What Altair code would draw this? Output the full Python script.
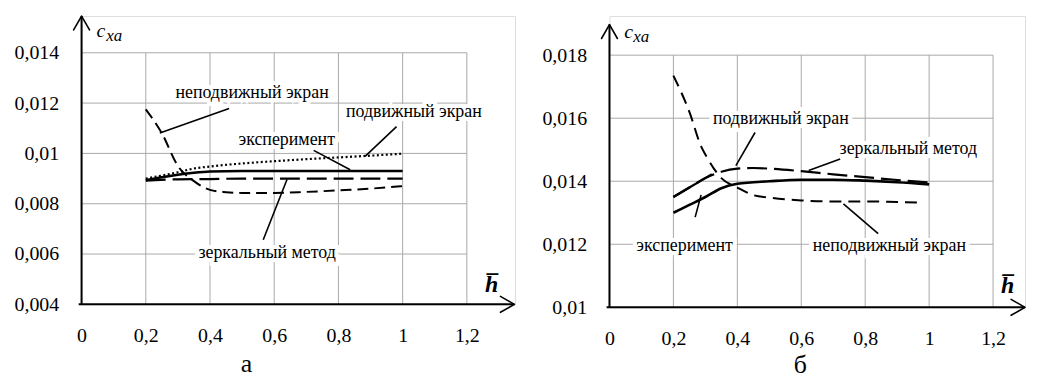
import altair as alt
import pandas as pd

FONT = "'Liberation Serif', 'Liberation Sans', Arial, sans-serif"
TICK_FS = 20
NOTE_FS = 18

# ---------------- panel а ----------------
a_xticks = [0, 0.2, 0.4, 0.6, 0.8, 1.0, 1.2]
a_yticks = [0.004, 0.006, 0.008, 0.010, 0.012, 0.014]
a_xdom = [0, 1.35]
a_ydom = [0.004, 0.01546]
a_xarrow = 1.348
a_yarrow = 0.01546

a_fixed_x = [0.2, 0.25, 0.3, 0.35, 0.4, 0.45, 0.5, 0.6, 0.7, 0.8, 0.9, 1.0]
a_fixed_y = [0.01175, 0.0108, 0.0095, 0.0089, 0.00855, 0.00846, 0.00843, 0.00843, 0.00847, 0.00853, 0.0086, 0.0087]
a_mirror_x = [0.2, 0.3, 0.4, 0.5, 0.6, 0.7, 0.8, 0.9, 1.0]
a_mirror_y = [0.00892, 0.00897, 0.00898, 0.0090, 0.0090, 0.0090, 0.0090, 0.0090, 0.0090]
a_exp_x = [0.2, 0.25, 0.3, 0.35, 0.4, 0.5, 0.6, 0.7, 0.8, 0.9, 1.0]
a_exp_y = [0.00893, 0.00905, 0.00915, 0.00923, 0.00928, 0.0093, 0.0093, 0.0093, 0.0093, 0.0093, 0.0093]
a_moving_x = [0.2, 0.3, 0.35, 0.4, 0.5, 0.6, 0.7, 0.8, 0.9, 1.0]
a_moving_y = [0.0090, 0.00925, 0.0094, 0.00948, 0.0096, 0.00969, 0.00977, 0.00984, 0.00991, 0.00999]

a_labels = ["неподвижный экран", "подвижный экран", "эксперимент", "зеркальный метод"]
a_label_x = [0.531, 1.035, 0.639, 0.578]
a_label_y = [0.012184, 0.011434, 0.010317, 0.00584]
a_lead_x1 = [0.4595, 0.981, 0.7229, 0.5658]
a_lead_y1 = [0.011789, 0.011067, 0.010119, 0.006566]
a_lead_x2 = [0.2438, 0.883, 0.8366, 0.6401]
a_lead_y2 = [0.010814, 0.009882, 0.009353, 0.008974]
a_c_pos = [0.0465, 0.01463]
a_sub_pos = [0.0768, 0.014454]
a_h_pos = [1.2775, 0.004486]

# ---------------- panel б ----------------
b_xticks = [0, 0.2, 0.4, 0.6, 0.8, 1.0, 1.2]
b_yticks = [0.010, 0.012, 0.014, 0.016, 0.018]
b_xdom = [0, 1.3]
b_ydom = [0.01, 0.019241]
b_xarrow = 1.3
b_yarrow = 0.01897

b_fixed_x = [0.2, 0.25, 0.287, 0.3, 0.35, 0.4, 0.45, 0.5, 0.6, 0.7, 0.8, 0.9, 0.98]
b_fixed_y = [0.01735, 0.0162, 0.0151, 0.01485, 0.0141, 0.0138, 0.01356, 0.01348, 0.01339, 0.01336, 0.01336, 0.01334, 0.01332]
b_mirror_x = [0.2, 0.25, 0.3, 0.35, 0.4, 0.45, 0.5, 0.6, 0.7, 0.8, 0.9, 1.0]
b_mirror_y = [0.0135, 0.0138, 0.0141, 0.0143, 0.0144, 0.01442, 0.0144, 0.01432, 0.01422, 0.01413, 0.01404, 0.01396]
b_moving_x = [0.2, 0.25, 0.3, 0.32]
b_moving_y = [0.0135, 0.0138, 0.0141, 0.01422]
b_exp_x = [0.2, 0.25, 0.3, 0.35, 0.4, 0.5, 0.6, 0.7, 0.8, 0.9, 1.0]
b_exp_y = [0.0130, 0.01325, 0.0135, 0.01378, 0.01392, 0.0140, 0.01405, 0.01405, 0.01402, 0.01397, 0.0139]

b_labels = ["подвижный экран", "зеркальный метод", "эксперимент", "неподвижный экран"]
b_label_x = [0.536, 0.935, 0.235, 0.8755]
b_label_y = [0.015809, 0.014862, 0.011781, 0.011781]
b_lead_x1 = [0.4554, 0.7217, 0.2681, 0.8406]
b_lead_y1 = [0.015547, 0.014704, 0.012863, 0.012336]
b_lead_x2 = [0.3955, 0.6232, 0.2867, 0.7319]
b_lead_y2 = [0.014496, 0.014338, 0.013568, 0.013283]
b_c_pos = [0.0466, 0.018546]
b_sub_pos = [0.0746, 0.01842]
b_h_pos = [1.2457, 0.010442]

STYLES_A = {
    "неподвижный экран": dict(strokeDash=[11, 6], strokeWidth=2.0),
    "зеркальный метод": dict(strokeDash=[20, 7], strokeWidth=2.2),
    "эксперимент": dict(strokeWidth=2.6),
    "подвижный экран": dict(strokeDash=[2, 2.5], strokeWidth=2.2),
}
STYLES_B = dict(STYLES_A)
STYLES_B["неподвижный экран"] = dict(strokeDash=[12, 7], strokeWidth=2.0)
STYLES_B["подвижный экран"] = dict(strokeWidth=2.2)

LABEL_EXPR = "replace(toString(datum.value), '.', ',')"


def panel(xticks, yticks, xdom, ydom, xarrow, yarrow, curves, styles, labels, lx, ly,
          lx1, ly1, lx2, ly2, c_pos, sub_pos, h_pos, w, h, title, title_dx, title_off):
    X = alt.X("x:Q", scale=alt.Scale(domain=xdom, nice=False, zero=False),
              axis=alt.Axis(values=xticks, title=None, domain=False, ticks=False, grid=False,
                            labelExpr=LABEL_EXPR, labelFont=FONT, labelFontSize=TICK_FS,
                            labelColor="black", labelPadding=21, labelFlush=False,
                            labelOverlap=False))
    Y = alt.Y("y:Q", scale=alt.Scale(domain=ydom, nice=False, zero=False),
              axis=alt.Axis(values=yticks, title=None, domain=False, ticks=False, grid=False,
                            labelExpr=LABEL_EXPR, labelFont=FONT, labelFontSize=TICK_FS,
                            labelColor="black", labelPadding=23, labelFlush=False,
                            labelOverlap=False))
    xmin, ymin = xticks[0], yticks[0]
    xmax, ymax = xticks[-1], yticks[-1]
    grid_rows = [dict(x=v, x2=v, y=ymin, y2=ymax) for v in xticks[1:]]
    grid_rows += [dict(x=xmin, x2=xmax, y=v, y2=v) for v in yticks[1:]]
    grid = alt.Chart(pd.DataFrame(grid_rows)).mark_rule(color="#a8a8a8", strokeWidth=1).encode(
        x=X, x2="x2:Q", y=Y, y2="y2:Q")
    axes_rows = [dict(x=-0.009, x2=xarrow, y=ymin, y2=ymin),
                 dict(x=xmin, x2=xmin, y=ymin, y2=yarrow)]
    axes = alt.Chart(pd.DataFrame(axes_rows)).mark_rule(color="black", strokeWidth=2).encode(
        x=X, x2="x2:Q", y=Y, y2="y2:Q")
    arr_x = alt.Chart(pd.DataFrame([dict(x=xarrow, y=ymin)])).mark_point(
        shape="M-1.75,-1L0,0L-1.75,1", size=256, filled=False, color="black",
        strokeWidth=1.6, strokeJoin="round", strokeCap="round", opacity=1).encode(x=X, y=Y)
    arr_y = alt.Chart(pd.DataFrame([dict(x=xmin, y=yarrow)])).mark_point(
        shape="M-1,1.75L0,0L1,1.75", size=256, filled=False, color="black",
        strokeWidth=1.6, strokeJoin="round", strokeCap="round", opacity=1).encode(x=X, y=Y)
    layers = [grid, axes, arr_x, arr_y]
    for name, (xs, ys) in curves:
        df = pd.DataFrame({"x": xs, "y": ys})
        layers.append(alt.Chart(df).mark_line(color="black", interpolate="monotone",
                                              **styles[name]).encode(x=X, y=Y))
    lead = pd.DataFrame({"x": lx1, "y": ly1, "x2": lx2, "y2": ly2})
    layers.append(alt.Chart(lead).mark_rule(color="black", strokeWidth=1.6).encode(
        x=X, x2="x2:Q", y=Y, y2="y2:Q"))
    ldf = pd.DataFrame({"x": lx, "y": ly, "t": labels})
    layers.append(alt.Chart(ldf).mark_text(font=FONT, fontSize=NOTE_FS, fill="white",
                                           stroke="white", strokeWidth=8, align="center",
                                           baseline="alphabetic").encode(x=X, y=Y, text="t:N"))
    layers.append(alt.Chart(ldf).mark_text(font=FONT, fontSize=NOTE_FS, fill="black",
                                           align="center", baseline="alphabetic").encode(
        x=X, y=Y, text="t:N"))
    cdf = pd.DataFrame({"x": [c_pos[0]], "y": [c_pos[1]], "t": ["c"]})
    layers.append(alt.Chart(cdf).mark_text(font=FONT, fontSize=20, fontStyle="italic",
                                           fill="black", align="left",
                                           baseline="alphabetic").encode(x=X, y=Y, text="t:N"))
    sdf = pd.DataFrame({"x": [sub_pos[0]], "y": [sub_pos[1]], "t": ["xa"]})
    layers.append(alt.Chart(sdf).mark_text(font=FONT, fontSize=17, fontStyle="italic",
                                           fill="black", align="left",
                                           baseline="alphabetic").encode(x=X, y=Y, text="t:N"))
    hdf = pd.DataFrame({"x": [h_pos[0]], "y": [h_pos[1]], "t": ["h\u0305"]})
    layers.append(alt.Chart(hdf).mark_text(font=FONT, fontSize=24, fontStyle="italic",
                                           fontWeight="bold", fill="black", align="center",
                                           baseline="alphabetic").encode(x=X, y=Y, text="t:N"))
    return alt.layer(*layers).properties(
        width=w, height=h,
        title=alt.TitleParams(text=title, orient="bottom", font=FONT, fontSize=26,
                              fontWeight="normal", color="black", dx=title_dx,
                              offset=title_off))


left = panel(a_xticks, a_yticks, a_xdom, a_ydom, a_xarrow, a_yarrow,
             [("неподвижный экран", (a_fixed_x, a_fixed_y)),
              ("подвижный экран", (a_moving_x, a_moving_y)),
              ("зеркальный метод", (a_mirror_x, a_mirror_y)),
              ("эксперимент", (a_exp_x, a_exp_y))], STYLES_A,
             a_labels, a_label_x, a_label_y, a_lead_x1, a_lead_y1, a_lead_x2, a_lead_y2,
             a_c_pos, a_sub_pos, a_h_pos, 436, 290, "а", -52, 6)

right = panel(b_xticks, b_yticks, b_xdom, b_ydom, b_xarrow, b_yarrow,
              [("неподвижный экран", (b_fixed_x, b_fixed_y)),
               ("подвижный экран", (b_moving_x, b_moving_y)),
               ("зеркальный метод", (b_mirror_x, b_mirror_y)),
               ("эксперимент", (b_exp_x, b_exp_y))], STYLES_B,
              b_labels, b_label_x, b_label_y, b_lead_x1, b_lead_y1, b_lead_x2, b_lead_y2,
              b_c_pos, b_sub_pos, b_h_pos, 418, 293, "б", -17, 4)

chart = alt.hconcat(left, right, spacing=95, bounds="flush").configure_view(
    strokeWidth=0).configure(background="white", padding={"left": 5, "top": 5, "right": 2, "bottom": 0})

chart.save("out.html", embed_options={"renderer": "svg", "actions": False})
